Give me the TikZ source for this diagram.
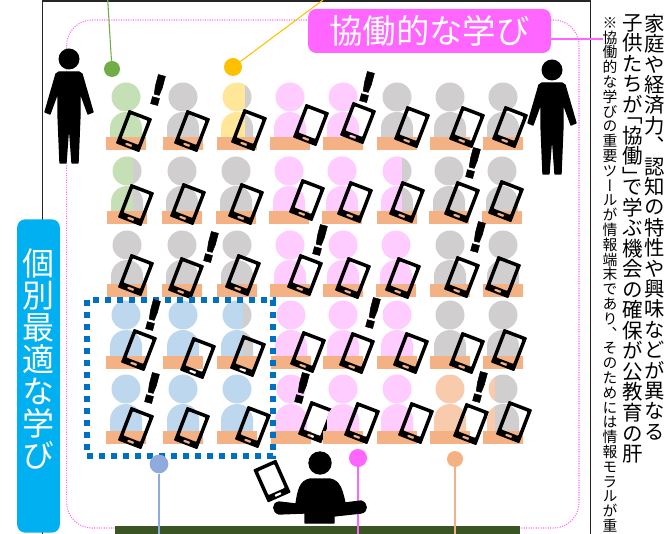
\documentclass[tikz,border=0pt]{standalone}
\usepackage{fontspec}
\setmainfont{Noto Sans CJK JP}
\newfontfamily\vertfont[RawFeature=+vert]{Noto Sans CJK JP}
\newfontfamily\markfont[UprightFont=* Bold,UprightFeatures={FakeBold=1.2}]{DejaVu Sans}
\usetikzlibrary{calc}
\definecolor{gn}{HTML}{C5E0B4}
\definecolor{gy}{HTML}{D0CECE}
\definecolor{yl}{HTML}{FFE699}
\definecolor{pk}{HTML}{FFCCFF}
\definecolor{bl}{HTML}{BDD7EE}
\definecolor{pc}{HTML}{F8CBAD}
\definecolor{desk}{HTML}{F4B183}
\definecolor{mgt}{HTML}{FF66FF}
\definecolor{sky}{HTML}{00B0F0}
\definecolor{navy}{HTML}{0070C0}
\definecolor{board}{HTML}{3B5423}
\definecolor{grn}{HTML}{70AD47}
\definecolor{gold}{HTML}{FFC000}
\definecolor{per}{HTML}{8FAADC}
\newcommand{\pupil}[3]{%
  \fill[#3] (#1,#2) circle (14.5);
  \fill[#3] ({#1-16},{#2+43}) -- ({#1-16},{#2+31}) arc (180:360:16) -- ({#1+16},{#2+43}) -- cycle;
}
\def\vopen{「}
\def\vclose{」}
\makeatletter
\newcommand{\vchars}[1]{\vbox{\offinterlineskip\@tfor\vc:=#1\do{%
  \ifx\vc\vopen\hbox to 1em{\hss\vrule height .38em depth .12em width 0pt\smash{\vc}\hss}%
  \else\ifx\vc\vclose\hbox to 1em{\hss\vrule height .5em width 0pt\smash{\lower.38em\hbox{\vc}}\hss}%
  \else\hbox to 1em{\hss\vrule height .88em depth .12em width 0pt\vc\hss}\fi\fi}}}
\makeatother
\tikzset{
  tablet/.pic={\fill[black,even odd rule,rounded corners=0.6pt] (-12.5,-18) rectangle (12.5,18)
    (-9,-14.5) rectangle (9,11.5) (-3.5,13.5) rectangle (3.5,16);},
  standing/.pic={\fill[black] (0,0) circle (10.5);
    \fill[black,draw=black,line join=round,line width=1pt] (-10,13) -- (-13,15) -- (-24,53) -- (-19,55) -- (-11,33) -- (-11,56) -- (-9,104)
      -- (-3,104) -- (0,63) -- (3,104) -- (9,104) -- (11,56) -- (11,33) -- (19,55) -- (24,53) -- (13,15) -- (10,13) -- cycle;},
  dot/.style={circle,inner sep=0pt},
  bang/.style={rotate=-15,inner sep=0pt,font=\markfont\fontsize{31}{31}\selectfont},
  vnote/.style={anchor=north,inner sep=0pt,font=\vertfont\fontsize{#1}{#1}\selectfont}
}
\begin{document}
\begin{tikzpicture}[x=0.75pt,y=-0.75pt]
\clip (0,0) rectangle (667,534);
\draw[line width=1pt,black!85] (42.5,1) rectangle (590.5,560);
\draw[mgt,densely dotted,line width=0.8pt,rounded corners=19pt] (66.7,20) rectangle (579,528);
\fill[board] (115,526) rectangle (520,540);
% pupils, one row after the other
\foreach \hy/\dy/\cells in {
  97/137/{126/gn/99/134/131,183/gy/99/192/131,237/yl/8/249/130,290/pk/99/311/125,343/pk/99/358/123,397/gy/99/412/127,450/gy/99/467/127,503/gy/99/510/127},
  171/211.5/{127/gn/6/136/205,182/gy/99/188/204,236/gy/99/246/204,289/pk/99/307/200,342/pk/99/355/202,397/pk/5/407/202,449/gy/99/462/202,502/gy/99/506/201},
  245/284/{127/gy/99/136/275,182/gy/99/186/278,237/gy/99/243/275,290/pk/99/305/275,343/pk/99/353/278,396/pk/99/403/278,450/gy/99/462/277,503/gy/99/503/277},
  315/356/{126/bl/99/139/350,183/bl/99/198/358,237/bl/6/248/356,291/pk/99/308/352,343/pk/99/357/353,397/pk/99/411/353,450/gy/99/467/353,503/gy/99/509/350},
  389/431/{126/bl/99/136/428,183/bl/99/192/428,237/bl/99/253/427,291/pk/99/316/422,343/pk/99/362/423,397/pk/99/416/423,450/pc/99/471/424,503/pc/-8/514/422}}
{
  \foreach \px/\col/\sp/\tx/\ty in \cells {
    \begin{scope}
      \clip ({\px-20},{\hy-20}) rectangle ({\px+\sp},{\hy+50});
      \pupil{\px}{\hy}{\col}
    \end{scope}
    \begin{scope}
      \clip ({\px+\sp},{\hy-20}) rectangle ({\px+20},{\hy+50});
      \pupil{\px}{\hy}{gy}
    \end{scope}
    \fill[desk] ({\px-20},\dy) rectangle ({\px+20},{\dy+13});
    \pic[rotate=-21] at (\tx,\ty) {tablet};
  }
}
\draw[navy,line width=4.5pt,dash pattern=on 4.5pt off 4.5pt] (87,300) rectangle (273,456);
\foreach \bx/\by [count=\i] in {158/90,367/87,473/163,211/247,320/240,478/237,153/315,373/313,152/388,302/388,480/387}
  \node[bang] (bang\i) at (\bx,\by) {!};
% the two standing adults and the teacher
\pic at (69,59) {standing};
\pic at (552,70) {standing};
% labels
\node[fill=mgt,rounded corners=6pt,inner sep=0pt,minimum width=182pt,minimum height=33pt,text=white,font=\fontsize{25}{25}\selectfont] (collab) at (429.5,31) {協働的な学び};
\node[fill=sky,rounded corners=6pt,inner sep=0pt,minimum width=32pt,minimum height=235pt] (indivbox) at (38.5,376) {};
\node[vnote=24,text=white] (indiv) at (38.5,247) {\vchars{個別最適な学び}};
\node[vnote=15.3] (noteA) at (655,13) {\vchars{家庭や経済力、認知の特性や興味などが異なる}};
\node[vnote=15.4] (noteB) at (633,12) {\vchars{子供たちが「協働」で学ぶ機会の確保が公教育の肝}};
\node[vnote=11.1] (noteC) at (610,15) {\vchars{※協働的な学びの重要ツールが情報端末であり、そのためには情報モラルが重}};
% markers and their leaders
\node[dot,fill=grn,minimum size=12pt] (greendot) at (112,69) {};
\node[dot,fill=gold,minimum size=13.5pt] (yellowdot) at (233,67) {};
\node[dot,fill=per,minimum size=14pt] (bluedot) at (159,464) {};
\node[dot,fill=mgt,minimum size=13.5pt] (pinkdot) at (358,458) {};
\node[dot,fill=desk,minimum size=12pt] (peachdot) at (455,459) {};
\coordinate (greenend) at (107.7,0);
\coordinate (yellowend) at (323,0);
\coordinate (blueend) at (159,534);
\coordinate (pinkend) at (358,534);
\coordinate (peachend) at (455,534);
\coordinate (noteend) at (603,39);
\draw[grn,line width=0.8pt] (greendot) -- (greenend);
\draw[gold,line width=0.8pt] (yellowdot) -- (yellowend);
\draw[per,line width=0.8pt] (bluedot) -- (blueend);
\draw[mgt,line width=0.8pt] (pinkdot) -- (pinkend);
\draw[desk,line width=0.8pt] (peachdot) -- (peachend);
\draw[mgt,line width=0.8pt] (collab.east |- noteend) -- (noteend);
% teacher
\fill[black] (320,463) circle (11.7);
\fill[black,draw=black,line join=round,line width=1pt] (305,523) -- (305,513) -- (279,514) .. controls (272,512) and (272,503) .. (279,502) -- (296,504) .. controls (298,490) and (300,481) .. (310,479) -- (330,479) .. controls (340,481) and (342,490) .. (345,503) -- (361,501) .. controls (368,503) and (368,512) .. (361,513) -- (334,516) -- (334,523) -- cycle;
\pic[rotate=24] at (272,481) {tablet};
\end{tikzpicture}
\end{document}
